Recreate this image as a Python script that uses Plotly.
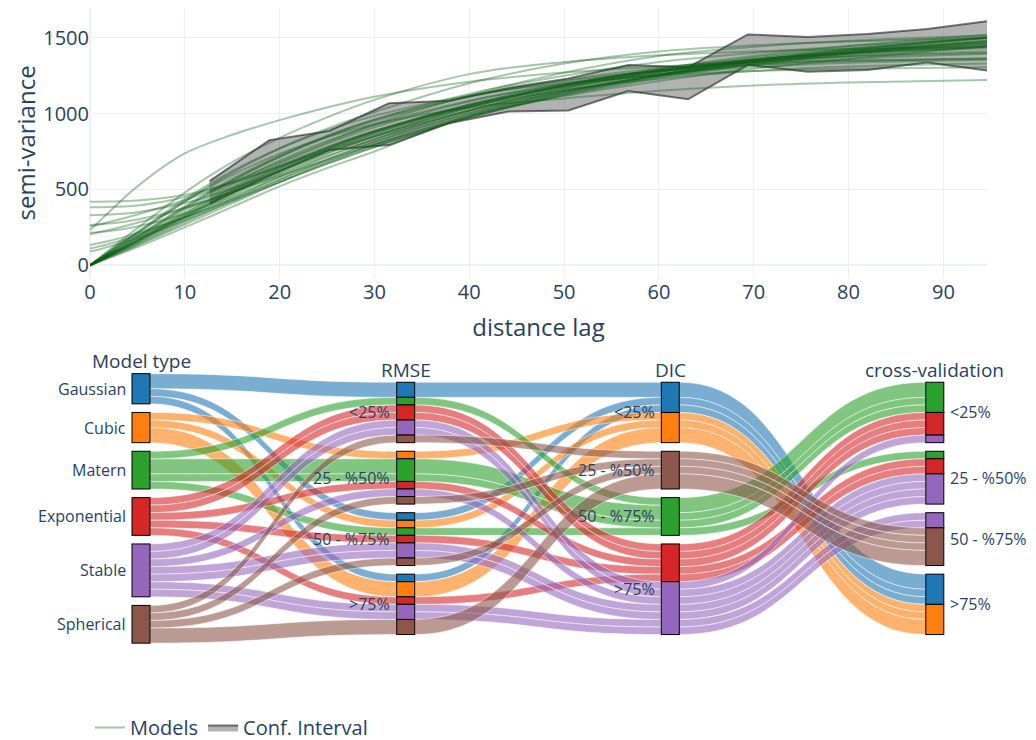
import plotly.graph_objects as go

# ---------------- data: empirical variogram confidence interval ----------------
lag = [12.61, 18.92, 25.23, 31.53, 37.84, 44.15, 50.45, 56.76, 63.07, 69.37, 75.68, 81.99, 88.29, 94.60]
ci_upper = [555, 825, 885, 1068, 1085, 1170, 1232, 1320, 1305, 1522, 1505, 1525, 1558, 1608]
ci_lower = [405, 590, 760, 792, 936, 1013, 1020, 1149, 1094, 1320, 1276, 1287, 1336, 1284]

# ---------------- data: fitted variogram models ----
model_lag = [0, 2, 5, 10, 15, 20, 25, 30, 40, 50, 60, 70, 80, 94.6]
model_gamma = [
    [232, 350, 520, 737, 860, 957, 1040, 1111, 1210, 1270, 1310, 1335, 1350, 1362],
    [0, 100, 245, 480, 680, 840, 975, 1090, 1260, 1340, 1385, 1410, 1425, 1440],
    [0, 85, 210, 420, 610, 770, 900, 1010, 1200, 1330, 1410, 1450, 1475, 1500],
    [0, 75, 185, 375, 555, 715, 850, 960, 1130, 1250, 1340, 1400, 1445, 1500],
    [0, 70, 170, 345, 515, 670, 800, 910, 1080, 1200, 1285, 1340, 1375, 1400],
    [0, 65, 160, 325, 490, 640, 770, 880, 1060, 1190, 1285, 1355, 1405, 1460],
    [0, 60, 150, 305, 460, 605, 735, 850, 1040, 1185, 1295, 1380, 1445, 1520],
    [0, 68, 168, 340, 505, 655, 780, 885, 1045, 1155, 1230, 1280, 1310, 1330],
    [0, 55, 137, 280, 425, 565, 695, 810, 1000, 1145, 1255, 1340, 1405, 1480],
    [0, 48, 120, 250, 385, 520, 640, 750, 985, 1115, 1215, 1295, 1360, 1445],
    [0, 80, 195, 390, 570, 725, 855, 960, 1115, 1215, 1280, 1320, 1345, 1365],
    [0, 90, 220, 435, 620, 770, 890, 985, 1120, 1200, 1250, 1280, 1295, 1305],
    [0, 62, 155, 315, 475, 620, 750, 865, 1050, 1185, 1290, 1370, 1430, 1495],
    [0, 72, 178, 360, 535, 690, 820, 925, 1085, 1190, 1260, 1305, 1335, 1355],
    [0, 58, 143, 292, 440, 585, 715, 830, 1020, 1165, 1275, 1360, 1425, 1505],
    [0, 88, 215, 420, 595, 735, 845, 930, 1040, 1100, 1150, 1185, 1205, 1222],
    [0, 66, 163, 330, 495, 645, 775, 885, 1055, 1175, 1260, 1320, 1360, 1395],
    [0, 52, 130, 268, 408, 548, 678, 795, 990, 1140, 1255, 1345, 1415, 1500],
    [0, 78, 190, 380, 560, 715, 845, 950, 1110, 1220, 1300, 1355, 1395, 1430],
    [0, 64, 158, 320, 482, 630, 760, 872, 1050, 1180, 1275, 1345, 1395, 1450],
    [419, 420, 427, 465, 545, 655, 770, 880, 1060, 1190, 1280, 1340, 1380, 1410],
    [382, 384, 394, 450, 550, 680, 810, 930, 1120, 1270, 1380, 1440, 1480, 1515],
    [330, 334, 350, 410, 505, 620, 740, 850, 1040, 1180, 1285, 1355, 1400, 1440],
    [266, 275, 302, 380, 485, 600, 720, 830, 1020, 1165, 1275, 1355, 1410, 1465],
    [215, 225, 256, 340, 455, 580, 700, 815, 1005, 1150, 1265, 1350, 1415, 1480],
    [205, 232, 280, 375, 480, 590, 695, 795, 975, 1120, 1235, 1325, 1395, 1470],
    [134, 160, 212, 315, 430, 550, 670, 780, 975, 1130, 1255, 1350, 1420, 1500],
    [110, 140, 198, 315, 440, 565, 685, 795, 985, 1135, 1250, 1335, 1395, 1455],
    [90, 122, 180, 295, 420, 548, 668, 780, 975, 1125, 1245, 1335, 1405, 1475],
    [255, 285, 335, 430, 540, 650, 755, 850, 1020, 1150, 1250, 1325, 1380, 1440],
]

# ---------------- data: model ranking (parallel sets) ----------------
model_types = ["Gaussian", "Cubic", "Matern", "Exponential", "Stable", "Spherical"]
type_colors = ["#1f77b4", "#ff7f0e", "#2ca02c", "#d62728", "#9467bd", "#8c564b"]
quartiles = ["<25%", "25 - %50%", "50 - %75%", ">75%"]
dimensions = ["Model type", "RMSE", "DIC", "cross-validation"]
dic_class = ["<25%", "<25%", "50 - %75%", ">75%", ">75%", "25 - %50%"]  # per model type

path_type = ["Gaussian", "Gaussian", "Gaussian",
             "Cubic", "Cubic", "Cubic",
             "Matern", "Matern", "Matern", "Matern",
             "Exponential", "Exponential", "Exponential", "Exponential", "Exponential",
             "Stable", "Stable", "Stable", "Stable", "Stable", "Stable", "Stable",
             "Spherical", "Spherical", "Spherical", "Spherical"]
path_rmse = ["<25%", "50 - %75%", ">75%",
             "25 - %50%", "50 - %75%", ">75%",
             "25 - %50%", "<25%", "50 - %75%", "25 - %50%",
             "<25%", "<25%", "25 - %50%", "50 - %75%", ">75%",
             "<25%", "<25%", "25 - %50%", "50 - %75%", ">75%", "50 - %75%", ">75%",
             "<25%", "25 - %50%", "50 - %75%", ">75%"]
path_cv = [">75%", ">75%", ">75%",
           ">75%", ">75%", ">75%",
           "<25%", "<25%", "<25%", "25 - %50%",
           "<25%", "25 - %50%", "<25%", "<25%", "25 - %50%",
           "<25%", "25 - %50%", "25 - %50%", "25 - %50%", "25 - %50%", "50 - %75%", "50 - %75%",
           "50 - %75%", "50 - %75%", "50 - %75%", "50 - %75%"]
path_n = [2, 1, 1,
          1, 1, 2,
          2, 1, 1, 1,
          1, 1, 1, 1, 1,
          1, 1, 1, 1, 1, 1, 1,
          1, 1, 1, 2]

# ---------------- layout geometry (screen pixels; page body has an 8px offset) ----
OFF = 8
FIG_W, FIG_H = 1036, 748
M_L, M_R, M_T, M_B = 82, 57, 0, 44
PW = FIG_W - M_L - M_R
PH = FIG_H - M_T - M_B


def fx(sx):
    return (sx - OFF - M_L) / PW


def fy(sy):
    return (FIG_H - M_B - (sy - OFF)) / PH


TOP_BOTTOM_PX = 278
LEGEND_BOTTOM_PX = 747
YTITLE_X_PX = 24.5
COL_PX = [141.0, 405.7, 670.3, 934.8]
NODE_W = 18
UNIT, GAP, MID = 7.55, 8.6, 508.4
N_TOTAL = sum(path_n)
SK_H = N_TOTAL * UNIT          # pad = 0 -> one unit of value is exactly UNIT px
SK_TOP = MID - SK_H / 2


def rgba(hex_color, a):
    h = hex_color.lstrip("#")
    return "rgba(%d,%d,%d,%.2f)" % (int(h[0:2], 16), int(h[2:4], 16), int(h[4:6], 16), a)


# ---------------- build sankey nodes ----------------
type_total = {t: 0 for t in model_types}
rmse_cnt, cv_cnt = {}, {}
for t, r, c, n in zip(path_type, path_rmse, path_cv, path_n):
    type_total[t] += n
    rmse_cnt[(r, t)] = rmse_cnt.get((r, t), 0) + n
    cv_cnt[(c, t)] = cv_cnt.get((c, t), 0) + n
dic_cnt = {}
for t, d in zip(model_types, dic_class):
    dic_cnt[(d, t)] = dic_cnt.get((d, t), 0) + type_total[t]

columns = [
    [(t, [(t, t, type_total[t])]) for t in model_types],
    [(q, [((q, t), t, rmse_cnt[(q, t)]) for t in model_types if (q, t) in rmse_cnt]) for q in quartiles],
    [(q, [((q, t), t, dic_cnt[(q, t)]) for t in model_types if (q, t) in dic_cnt]) for q in quartiles],
    [(q, [((q, t), t, cv_cnt[(q, t)]) for t in model_types if (q, t) in cv_cnt]) for q in quartiles],
]

node_index, node_x, node_y, node_color = {}, [], [], []
group_labels = []   # per column: list of (label, center_px)
col_tops = []
for ci, groups in enumerate(columns):
    groups = [(lab, g) for lab, g in groups if g]
    total = sum(n for _, g in groups for _, _, n in g) * UNIT + (len(groups) - 1) * GAP
    y = MID - total / 2
    col_tops.append(y)
    labs = []
    for lab, g in groups:
        g_start = y
        for key, t, n in g:
            node_index[(ci, key)] = len(node_x)
            node_x.append(fx(COL_PX[ci]))
            node_y.append((y + n * UNIT / 2 - SK_TOP) / SK_H)
            node_color.append(type_colors[model_types.index(t)])
            y += n * UNIT
        labs.append((lab, (g_start + y) / 2))
        y += GAP
    group_labels.append(labs)

src, tgt, val, lcol = [], [], [], []
for t, r, c, n in zip(path_type, path_rmse, path_cv, path_n):
    d = dic_class[model_types.index(t)]
    col = rgba(type_colors[model_types.index(t)], 0.6)
    chain = [node_index[(0, t)], node_index[(1, (r, t))], node_index[(2, (d, t))], node_index[(3, (c, t))]]
    for a, b in zip(chain[:-1], chain[1:]):
        src.append(a)
        tgt.append(b)
        val.append(n)
        lcol.append(col)

# ---------------- figure ----------------
fig = go.Figure()

fig.add_trace(go.Scatter(x=lag, y=ci_lower, mode="lines",
                         line=dict(color="rgba(0,0,0,0.52)", width=2),
                         legendgroup="ci", showlegend=False, hoverinfo="skip"))
fig.add_trace(go.Scatter(x=lag, y=ci_upper, mode="lines", fill="tonexty",
                         fillcolor="rgba(0,0,0,0.3)",
                         line=dict(color="rgba(0,0,0,0.52)", width=2),
                         legendgroup="ci", name="Conf. Interval", legendrank=2))
for i, g in enumerate(model_gamma):
    fig.add_trace(go.Scatter(x=model_lag, y=g, mode="lines",
                             line=dict(color="rgba(10,95,20,0.36)", width=2, shape="spline"),
                             legendgroup="models", name="Models", showlegend=(i == 0),
                             legendrank=1))

fig.add_trace(go.Sankey(
    domain=dict(x=[0, 1], y=[fy(SK_TOP + SK_H), fy(SK_TOP)]),
    arrangement="fixed",
    node=dict(pad=0, thickness=NODE_W, x=node_x, y=node_y,
              color=node_color, label=[""] * len(node_x),
              line=dict(color="black", width=1), hoverinfo="none"),
    link=dict(source=src, target=tgt, value=val, color=lcol,
              line=dict(color="white", width=0.5), hoverinfo="none"),
))

ann = []
LABEL_FONT = dict(size=16, color="#2a3f5f")
HEAD_FONT = dict(size=19, color="#2a3f5f")
for ci, name in enumerate(dimensions):
    ann.append(dict(x=fx(COL_PX[ci]), y=fy(col_tops[ci] - 12.3), xref="paper", yref="paper",
                    text=name, showarrow=False, xanchor="center", yanchor="middle", font=HEAD_FONT))
for ci, labs in enumerate(group_labels):
    for name, cy in labs:
        if ci == 3:
            xp, xa = COL_PX[ci] + NODE_W / 2 + 4.5, "left"
        else:
            xp, xa = COL_PX[ci] - NODE_W / 2 - 4.5, "right"
        ann.append(dict(x=fx(xp), y=fy(cy), xref="paper", yref="paper", text=name,
                        showarrow=False, xanchor=xa, yanchor="middle", font=LABEL_FONT))
# y-axis title of the variogram panel
ann.append(dict(x=fx(YTITLE_X_PX), y=fy((OFF + TOP_BOTTOM_PX) / 2), xref="paper", yref="paper",
                text="semi-variance", textangle=-90, showarrow=False,
                xanchor="center", yanchor="middle", font=dict(size=24, color="#2a3f5f")))

fig.update_layout(
    template="plotly_white",
    width=FIG_W, height=FIG_H,
    margin=dict(l=M_L, r=M_R, t=M_T, b=M_B),
    font=dict(family="Open Sans", size=20, color="#2a3f5f"),
    xaxis=dict(domain=[0, 1], range=[0, 94.6], dtick=10, title=dict(text="distance lag")),
    yaxis=dict(domain=[fy(TOP_BOTTOM_PX), 1], range=[-84, 1696], dtick=500, automargin=False),
    legend=dict(orientation="h", x=0, xanchor="left", y=fy(LEGEND_BOTTOM_PX), yanchor="bottom"),
    annotations=ann,
)

fig.write_html("out.html")
